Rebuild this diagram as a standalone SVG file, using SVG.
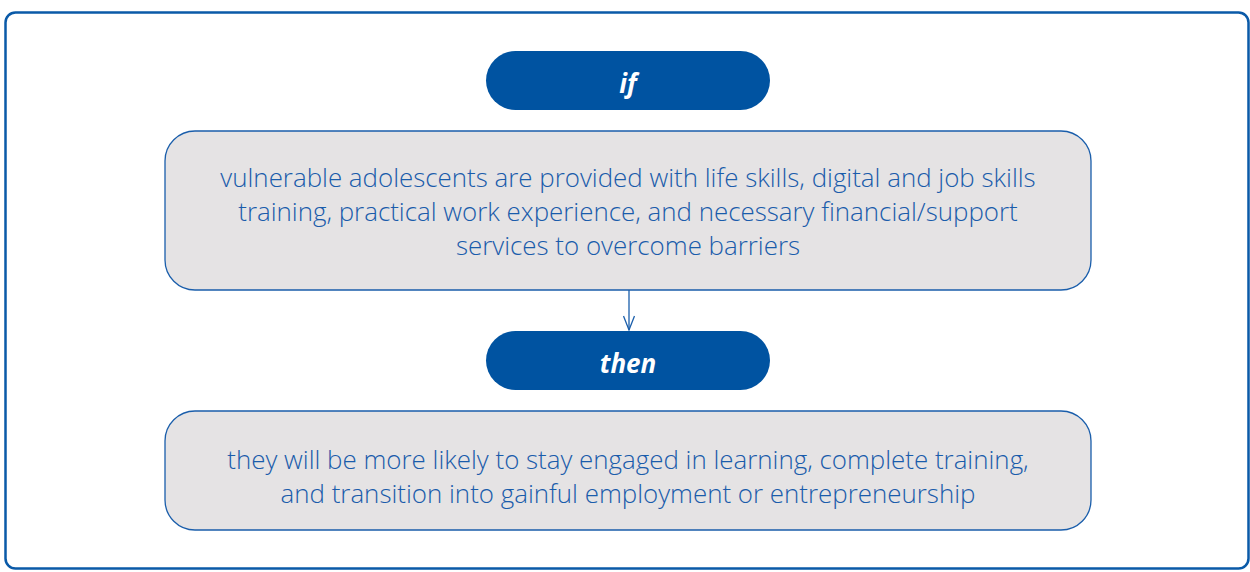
<svg xmlns="http://www.w3.org/2000/svg" width="1250" height="572" viewBox="0 0 1250 572">
<defs>
<style>
.frame{fill:#ffffff;stroke:#0a5aa8;stroke-width:2.5}
.pill{fill:#0053a1}
.box{fill:#e5e3e4;stroke:#1a5eab;stroke-width:1.3}
.ptxt{font-family:"Open Sans",sans-serif;font-size:26px;font-weight:bold;font-style:italic;fill:#ffffff;text-anchor:middle}
.btxt{font-family:"Open Sans",sans-serif;font-size:25.9px;font-weight:300;fill:#1a5cab;text-anchor:middle}
.conn{stroke:#1a5eab;stroke-width:1.3;fill:none}
</style>
<marker id="arr" viewBox="0 0 16 12" refX="15" refY="6" markerWidth="16" markerHeight="12" markerUnits="userSpaceOnUse" orient="auto">
<path d="M1,0.5 L15,6 L1,11.5" fill="none" stroke="#1a5eab" stroke-width="1.3"/>
</marker>
</defs>
<rect class="frame" x="5.5" y="12.5" width="1243" height="556" rx="10"/>
<g id="connectors">
<line class="conn" x1="629" y1="290" x2="629" y2="330" marker-end="url(#arr)"/>
</g>
<g id="if">
<rect class="pill" x="486" y="51" width="284" height="59" rx="29.5"/>
<text class="ptxt" x="628" y="93">if</text>
</g>
<g id="condition">
<rect class="box" x="165" y="131" width="926" height="159" rx="30"/>
<text class="btxt" x="628" y="187">vulnerable adolescents are provided with life skills, digital and job skills</text>
<text class="btxt" x="628" y="221">training, practical work experience, and necessary financial/support</text>
<text class="btxt" x="628" y="255">services to overcome barriers</text>
</g>
<g id="then">
<rect class="pill" x="486" y="331" width="284" height="59" rx="29.5"/>
<text class="ptxt" x="628" y="373">then</text>
</g>
<g id="outcome">
<rect class="box" x="165" y="411" width="926" height="119" rx="30"/>
<text class="btxt" x="628" y="469">they will be more likely to stay engaged in learning, complete training,</text>
<text class="btxt" x="628" y="503">and transition into gainful employment or entrepreneurship</text>
</g>
</svg>
